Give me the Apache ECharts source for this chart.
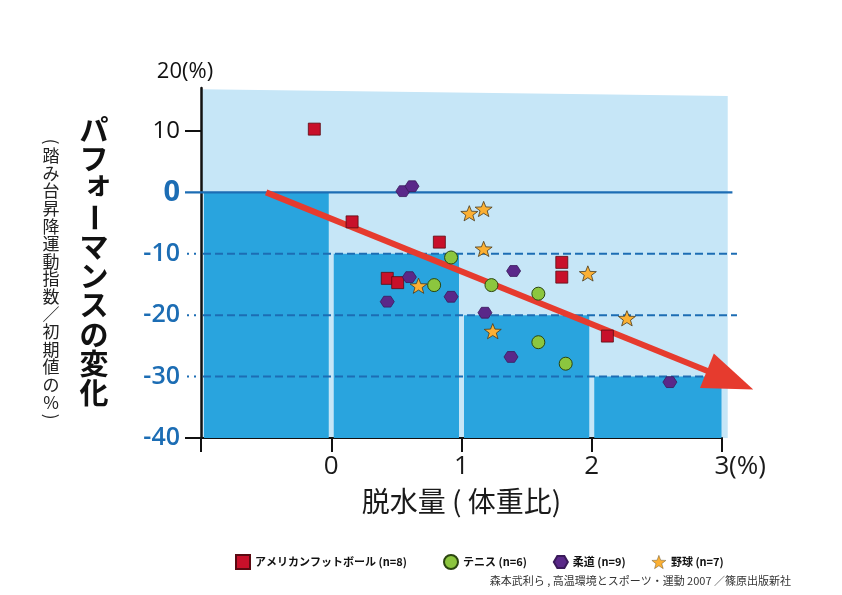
<!DOCTYPE html>
<html><head><meta charset="utf-8">
<script src="https://cdn.jsdelivr.net/npm/echarts@6/dist/echarts.min.js"></script>
<style>html,body{margin:0;padding:0;background:#fff}#c{width:842px;height:595px}</style>
</head><body><div id="c"></div>
<script>
// ---- data ----
const footballX = [-0.13, 0.16, 0.83, 0.43, 0.51, 1.77, 1.77, 2.12];
const footballY = [10.3, -4.8, -8.1, -14.0, -14.7, -11.4, -13.8, -23.4];
const tennisX = [0.92, 0.79, 1.23, 1.59, 1.59, 1.80];
const tennisY = [-10.6, -15.1, -15.1, -16.5, -24.4, -27.9];
const judoX = [0.55, 0.62, 0.60, 0.43, 0.92, 1.40, 1.18, 1.38, 2.60];
const judoY = [0.2, 1.0, -13.8, -17.8, -17.0, -12.8, -19.6, -26.8, -30.9];
const baseballX = [1.06, 1.17, 1.17, 0.67, 1.24, 1.97, 2.27];
const baseballY = [-3.4, -2.7, -9.2, -15.2, -22.6, -13.2, -20.5];
const seriesNames = ['アメリカンフットボール (n=8)', 'テニス (n=6)', '柔道 (n=9)', '野球 (n=7)'];
const stepLeft = [-1, 0, 1, 2];
const stepRight = [0, 1, 2, 3];
const stepTop = [0, -10, -20, -30];
const stepBottom = -40;
const bgX = [-1, 3.044, 3.044, -1];
const bgY = [16.8, 15.7, -40, -40];
const trendX = [-0.5, 3.24];
const trendY = [0, -32.1];
const guideY = [0, -10, -20, -30];
const yTicks = [-40, -30, -20, -10, 0, 10];
const xTicks = [0, 1, 2, 3];
const yTitle = 'パフォーマンスの変化';
const ySubTitle = '（踏み台昇降運動指数／初期値の%）';
const xTitle = '脱水量 ( 体重比)';
const sourceText = '森本武利ら , 高温環境とスポーツ・運動 2007 ／篠原出版新社';

// ---- style ----
const JP = '"Noto Sans CJK JP", sans-serif';
const NUM = '"Open Sans", "Noto Sans", sans-serif';
const BLUE = '#1c6db4';
const zip = (xs, ys) => xs.map((x, i) => [x, ys[i]]);
const HEX = 'path://M-1,0 L-0.5,-0.866 L0.5,-0.866 L1,0 L0.5,0.866 L-0.5,0.866 Z';
const STAR = 'path://M0,-1 L0.247,-0.340 L0.951,-0.309 L0.399,0.130 L0.588,0.809 L0,0.42 L-0.588,0.809 L-0.399,0.130 L-0.951,-0.309 L-0.247,-0.340 Z';

function vText(str, cx, top, fs, step, parenStep, weight, color) {
  const els = [];
  let y = top;
  for (const ch of str) {
    const isParen = ch === '（' || ch === '）';
    const h = isParen ? parenStep : step;
    const rot = (ch === 'ー' || isParen) ? -Math.PI / 2 : 0;
    let dx = 0, dy = 0;
    if ('ォァィゥェッャュョ'.includes(ch)) { dx = fs * 0.14; dy = -fs * 0.18; }
    const disp = ch === '（' ? '(' : (ch === '）' ? ')' : ch);
    els.push({
      type: 'text', x: cx + dx, y: y + h / 2 + dy, rotation: rot,
      style: { text: disp, font: weight + ' ' + fs + 'px ' + JP, fill: color, align: 'center', verticalAlign: 'middle' },
      silent: true
    });
    y += h;
  }
  return els;
}

const legendText = { fontFamily: JP, fontSize: 11, fontWeight: 'bold', color: '#111' };
const chart = echarts.init(document.getElementById('c'), null, { renderer: 'canvas' });
const option = {
  backgroundColor: '#fff',
  animation: false,
  grid: { left: 201, right: 120, top: 88, bottom: 157, containLabel: false },
  xAxis: {
    type: 'value', min: -1, max: 3, interval: 1,
    axisLine: { onZero: false, lineStyle: { color: '#111', width: 2 } },
    axisTick: { length: 14, lineStyle: { color: '#111', width: 2 } },
    axisLabel: {
      customValues: xTicks, margin: 16,
      formatter: v => v === 3 ? '{sp|}{n|3}{p|(%)}' : '{n|' + v + '}',
      rich: {
        n: { fontSize: 26, fontFamily: NUM, color: '#1a1a1a' },
        p: { fontSize: 26, fontFamily: NUM, color: '#1a1a1a', width: 36 },
        sp: { width: 36 }
      }
    },
    splitLine: { show: false },
    name: xTitle, nameLocation: 'middle', nameGap: 49,
    nameTextStyle: { fontSize: 28, fontFamily: JP, color: '#1a1a1a' }
  },
  yAxis: {
    type: 'value', min: -40, max: 17, interval: 10,
    axisLine: { onZero: false, lineStyle: { color: '#111', width: 2.5 } },
    axisTick: { show: true, customValues: [10, -40], length: 16, lineStyle: { color: '#111', width: 2 } },
    axisLabel: {
      customValues: yTicks, margin: 21,
      formatter: v => v === 10 ? '{k|10}' : (v === 0 ? '{z|0}' : '{b|' + v + '}'),
      rich: {
        k: { fontSize: 24, fontFamily: NUM, color: '#111' },
        z: { fontSize: 29, fontFamily: NUM, fontWeight: 'bold', color: BLUE },
        b: { fontSize: 25, fontFamily: NUM, fontWeight: 600, color: BLUE }
      }
    },
    splitLine: { show: false },
    name: '20(%)', nameLocation: 'end', nameGap: 5,
    nameTextStyle: { fontSize: 22, fontFamily: NUM, color: '#111', padding: [0, 32, 0, 0] }
  },
  legend: [
    { left: 230, top: 549, itemWidth: 14, itemHeight: 14,
      data: [seriesNames[0]], textStyle: legendText },
    { left: 438, top: 549, itemWidth: 14, itemHeight: 14, itemGap: 26,
      data: [seriesNames[1], seriesNames[2], { name: seriesNames[3], itemStyle: { borderWidth: 0.4 } }],
      textStyle: legendText }
  ],
  graphic: [
    ...vText(yTitle, 94, 115, 29, 29.3, 29.3, 'bold', '#111'),
    ...vText(ySubTitle, 51, 136, 17, 17.6, 11, 'normal', '#222'),
    { type: 'text', right: 51, top: 575, silent: true,
      style: { text: sourceText, font: '11px ' + JP, fill: '#333' } }
  ],
  series: [
    { type: 'custom', name: 'bg', z: 0, silent: true, data: [[0, 0]],
      renderItem: (params, api) => ({ type: 'polygon',
        shape: { points: bgX.map((x, i) => api.coord([x, bgY[i]])) },
        style: { fill: '#c6e6f7' } }) },
    { type: 'custom', name: 'steps', z: 1, silent: true,
      data: stepLeft.map((l, i) => [l, stepRight[i], stepTop[i], stepBottom]),
      encode: { x: [0, 1], y: [2, 3] },
      renderItem: (params, api) => {
        const a = api.coord([api.value(0), api.value(2)]);
        const b = api.coord([api.value(1), api.value(3)]);
        const i = params.dataIndex;
        const pl = i === 0 ? 3 : 2.5, pr = i === stepLeft.length - 1 ? 0.5 : 2.5;
        return { type: 'rect', shape: { x: a[0] + pl, y: a[1], width: b[0] - a[0] - pl - pr, height: b[1] - a[1] },
          style: { fill: '#29a4de' } };
      } },
    { type: 'custom', name: 'guides', z: 2, silent: true,
      data: guideY.map(y => [-1, y]),
      renderItem: (params, api) => {
        const y = api.value(1);
        const p = api.coord([-1, y]);
        if (y === 0) {
          const e = api.coord([3.08, y]);
          return { type: 'line', shape: { x1: p[0] - 16, y1: p[1], x2: e[0], y2: p[1] },
            style: { stroke: BLUE, lineWidth: 2.2 } };
        }
        const e = api.coord([3.115, y]);
        return { type: 'group', children: [
          { type: 'line', shape: { x1: p[0] + 2, y1: p[1], x2: e[0], y2: p[1] },
            style: { stroke: BLUE, lineWidth: 2, lineDash: [8, 4] } },
          { type: 'line', shape: { x1: p[0] - 14, y1: p[1], x2: p[0] - 2, y2: p[1] },
            style: { stroke: BLUE, lineWidth: 2, lineDash: [2, 5] } }
        ] };
      } },
    { type: 'custom', name: 'trend', z: 3, silent: true,
      data: [[trendX[0], trendY[0], trendX[1], trendY[1]]],
      renderItem: (params, api) => {
        const p0 = api.coord([api.value(0), api.value(1)]);
        const p1 = api.coord([api.value(2), api.value(3)]);
        const dx = p1[0] - p0[0], dy = p1[1] - p0[1];
        const len = Math.sqrt(dx * dx + dy * dy);
        const ux = dx / len, uy = dy / len;
        const L = 50, W = 18.5;
        const bx = p1[0] - ux * L, by = p1[1] - uy * L;
        return { type: 'group', children: [
          { type: 'line', shape: { x1: p0[0], y1: p0[1], x2: bx + ux * 4, y2: by + uy * 4 },
            style: { stroke: '#e63b2e', lineWidth: 6 } },
          { type: 'polygon', shape: { points: [[p1[0], p1[1]], [bx - uy * W, by + ux * W], [bx + uy * W, by - ux * W]] },
            style: { fill: '#e63b2e' } }
        ] };
      } },
    { type: 'scatter', name: seriesNames[0], z: 5, symbol: 'rect', symbolSize: 12,
      data: zip(footballX, footballY),
      itemStyle: { color: '#c8102a', borderColor: '#5a0a12', borderWidth: 0.8, opacity: 1 } },
    { type: 'scatter', name: seriesNames[1], z: 5, symbol: 'circle', symbolSize: 13,
      data: zip(tennisX, tennisY),
      itemStyle: { color: '#8cc63e', borderColor: '#2b4510', borderWidth: 1, opacity: 1 } },
    { type: 'scatter', name: seriesNames[2], z: 5, symbol: HEX, symbolSize: [14, 12.5], symbolKeepAspect: true,
      data: zip(judoX, judoY),
      itemStyle: { color: '#5a2889', borderColor: '#3a1a5a', borderWidth: 0.8, opacity: 1 } },
    { type: 'scatter', name: seriesNames[3], z: 5, symbol: STAR, symbolSize: [17, 16], symbolKeepAspect: true,
      data: zip(baseballX, baseballY),
      itemStyle: { color: '#fbb034', borderColor: '#4a3a1a', borderWidth: 0.8, opacity: 1 } }
  ]
};
chart.setOption(option);
</script>
</body></html>
